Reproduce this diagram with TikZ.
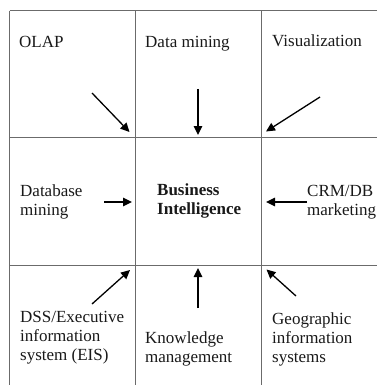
\documentclass[tikz,border=0pt]{standalone}
\usepackage{fontspec}
\setmainfont{Liberation Serif}
\usetikzlibrary{arrows.meta}
\newcommand\mlines[1]{\begin{tabular}[t]{@{}l@{}}#1\end{tabular}}
\renewcommand\arraystretch{1}
\begin{document}
\begin{tikzpicture}[x=1pt,y=-1pt,
  gridline/.style={draw=black!58, line width=1pt},
  lbl/.style={anchor=base west, inner sep=0pt, font=\fontsize{17}{19}\selectfont, text=black!90},
  arr/.style={draw=black, line width=1.3pt, -{Triangle[length=9pt,width=8.5pt]}}]
\useasboundingbox (0,0) rectangle (377,385);
% grid
\draw[gridline] (9.5,11) -- (377,11);
\draw[gridline] (9.5,137.5) -- (377,137.5);
\draw[gridline] (9.5,265) -- (377,265);
\draw[gridline] (9.5,11) -- (9.5,385);
\draw[gridline] (135,11) -- (135,385);
\draw[gridline] (261,11) -- (261,385);
% labels
\node[lbl] (olap) at (19,48) {OLAP};
\node[lbl] (dm) at (145,48) {Data mining};
\node[lbl] (vis) at (272,47) {Visualization};
\node[lbl] (dbm) at (20,196) {\mlines{Database\\mining}};
\node[lbl] (bi) at (157,195) {\mlines{\textbf{Business}\\\textbf{Intelligence}}};
\node[lbl] (crm) at (307,196) {\mlines{CRM/DB\\marketing}};
\node[lbl] (dss) at (20,322) {\mlines{DSS/Executive\\information\\system (EIS)}};
\node[lbl] (km) at (145,343) {\mlines{Knowledge\\management}};
\node[lbl] (gis) at (272,324) {\mlines{Geographic\\information\\systems}};
% arrow end points
\coordinate (olapS) at (92,93);   \coordinate (olapE) at (129.5,132);
\coordinate (dmS) at (198,89);    \coordinate (dmE) at (198,135);
\coordinate (visS) at (320,97);   \coordinate (visE) at (266,131.5);
\coordinate (dbmS) at (104,202);  \coordinate (dbmE) at (132,202);
\coordinate (crmS) at (307,202);  \coordinate (crmE) at (266,202);
\coordinate (dssS) at (92,304);   \coordinate (dssE) at (130,270);
\coordinate (kmS) at (198,308);   \coordinate (kmE) at (198,268);
\coordinate (gisS) at (296,296);  \coordinate (gisE) at (266.5,269.5);
% arrows
\draw[arr] (olapS) -- (olapE);
\draw[arr] (dmS) -- (dmE);
\draw[arr] (visS) -- (visE);
\draw[arr] (dbmS) -- (dbmE);
\draw[arr] (crmS) -- (crmE);
\draw[arr] (dssS) -- (dssE);
\draw[arr] (kmS) -- (kmE);
\draw[arr] (gisS) -- (gisE);
\end{tikzpicture}
\end{document}
